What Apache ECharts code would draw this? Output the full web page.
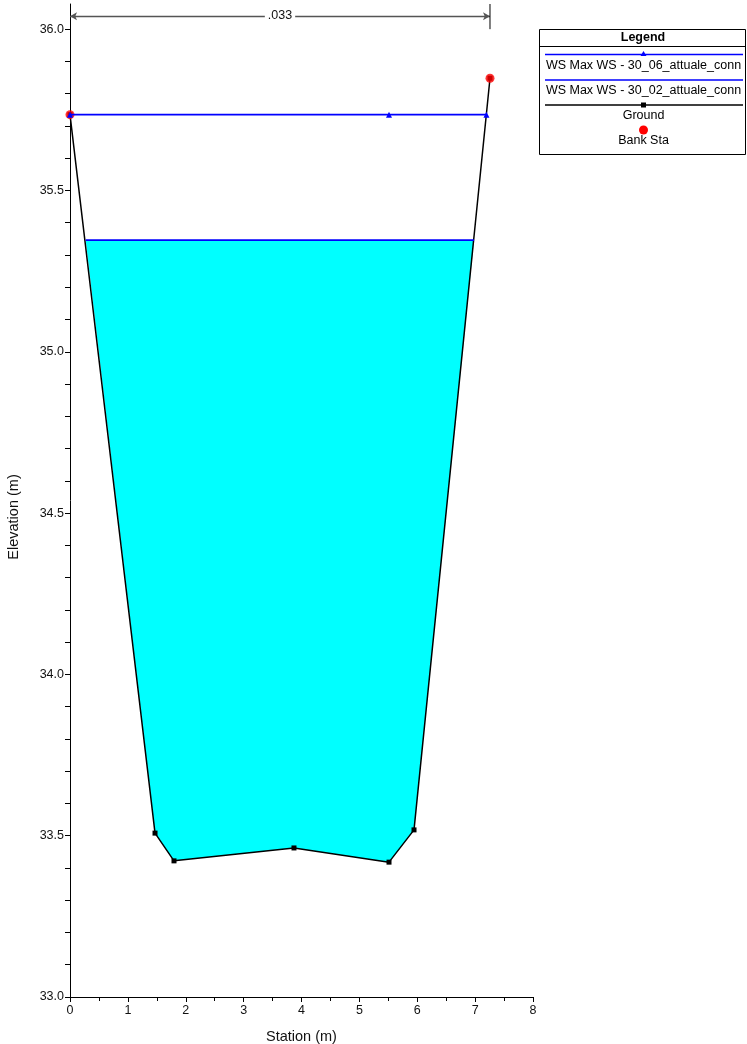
<!DOCTYPE html>
<html>
<head>
<meta charset="utf-8">
<script src="https://cdn.jsdelivr.net/npm/echarts@6/dist/echarts.min.js"></script>
<style>
  html, body { margin: 0; padding: 0; background: #fff; }
  #chart { width: 747px; height: 1044px; }
</style>
</head>
<body>
<div id="chart"></div>
<script>
// ground profile (station, elevation)
const groundX = [0, 1.469, 1.797, 3.870, 5.512, 5.944, 7.257];
const groundY = [35.735, 33.508, 33.422, 33.462, 33.418, 33.518, 35.848];

// bank stations
const bankX = [0, 7.257];
const bankY = [35.735, 35.848];

// water surfaces
const ws06X = [0, 5.512, 7.195];
const ws06Y = [35.735, 35.735, 35.735];
const ws02X = [0.271, 6.98];
const ws02Y = [35.346, 35.346];

// manning n bracket
const nLabel = '.033';
const nFrom = 0, nTo = 7.257, nElev = 36.04;

// ticks
const yLabels = [33.0, 33.5, 34.0, 34.5, 35.0, 35.5, 36.0];
const yTicks = [33.0, 33.1, 33.2, 33.3, 33.4, 33.5, 33.6, 33.7, 33.8, 33.9,
  34.0, 34.1, 34.2, 34.3, 34.4, 34.5, 34.6, 34.7, 34.8, 34.9,
  35.0, 35.1, 35.2, 35.3, 35.4, 35.5, 35.6, 35.7, 35.8, 35.9, 36.0];

const legendItems = ['WS Max WS - 30_06_attuale_conn', 'WS Max WS - 30_02_attuale_conn', 'Ground', 'Bank Sta'];

const zip = (xs, ys) => xs.map((x, i) => [x, ys[i]]);

// water polygon: surface line then ground interior points back from right to left
const waterPoly = zip(ws02X, ws02Y).concat(zip(groundX.slice(1, 6), groundY.slice(1, 6)).reverse());

const chart = echarts.init(document.getElementById('chart'));
const font = 'Liberation Sans, Arial, sans-serif';
const lg = '12.5px ' + font;

const option = {
  animation: false,
  textStyle: { fontFamily: font },
  grid: { left: 70, right: 214, top: 4, bottom: 47, containLabel: false, outerBoundsMode: 'none' },
  xAxis: {
    type: 'value', min: 0, max: 8, interval: 1,
    name: 'Station (m)', nameLocation: 'middle', nameGap: 32,
    nameTextStyle: { color: '#111', fontSize: 14.5 },
    axisLine: { onZero: false, lineStyle: { color: '#000', width: 1 } },
    axisTick: { length: 5, lineStyle: { color: '#000' } },
    minorTick: { show: true, splitNumber: 2, length: 4, lineStyle: { color: '#000' } },
    axisLabel: { color: '#111', fontSize: 12.5, margin: 7 },
    splitLine: { show: false }
  },
  yAxis: {
    type: 'value', min: 33, max: 36.078,
    axisLine: { show: true, onZero: false, lineStyle: { color: '#000', width: 1 } },
    axisTick: { show: true, length: 5, customValues: yTicks, lineStyle: { color: '#000' } },
    axisLabel: { color: '#111', fontSize: 12.5, margin: 6, customValues: yLabels,
      formatter: v => v.toFixed(1) },
    splitLine: { show: false }
  },
  graphic: [
    { type: 'text', x: 14, y: 517, rotation: Math.PI / 2,
      style: { text: 'Elevation (m)', font: '14.5px ' + font, fill: '#111', align: 'center', verticalAlign: 'middle' } },
    // legend box
    { type: 'rect', shape: { x: 539.5, y: 29.5, width: 206, height: 125 },
      style: { fill: '#fff', stroke: '#000', lineWidth: 1 } },
    { type: 'line', shape: { x1: 539.5, y1: 46.5, x2: 745.5, y2: 46.5 }, style: { stroke: '#000', lineWidth: 1 } },
    { type: 'text', x: 643, y: 37.5,
      style: { text: 'Legend', font: 'bold ' + lg, fill: '#000', align: 'center', verticalAlign: 'middle' } },
    { type: 'line', shape: { x1: 545, y1: 54.5, x2: 743, y2: 54.5 }, style: { stroke: '#0000ff', lineWidth: 1.5 } },
    { type: 'polygon', shape: { points: [[643.5, 51], [646.5, 56], [640.5, 56]] }, style: { fill: '#0000ff' } },
    { type: 'text', x: 643.5, y: 66,
      style: { text: legendItems[0], font: lg, fill: '#000', align: 'center', verticalAlign: 'middle' } },
    { type: 'line', shape: { x1: 545, y1: 80, x2: 743, y2: 80 }, style: { stroke: '#0000ff', lineWidth: 1.5 } },
    { type: 'text', x: 643.5, y: 91,
      style: { text: legendItems[1], font: lg, fill: '#000', align: 'center', verticalAlign: 'middle' } },
    { type: 'line', shape: { x1: 545, y1: 105, x2: 743, y2: 105 }, style: { stroke: '#000', lineWidth: 1.5 } },
    { type: 'rect', shape: { x: 641, y: 102.5, width: 5, height: 5 }, style: { fill: '#000' } },
    { type: 'text', x: 643.5, y: 116,
      style: { text: legendItems[2], font: lg, fill: '#000', align: 'center', verticalAlign: 'middle' } },
    { type: 'circle', shape: { cx: 643.5, cy: 130, r: 4.5 }, style: { fill: '#ff0000' } },
    { type: 'text', x: 643.5, y: 141,
      style: { text: legendItems[3], font: lg, fill: '#000', align: 'center', verticalAlign: 'middle' } }
  ],
  series: [
    {
      type: 'custom', z: 1, silent: true,
      data: [0],
      renderItem: (params, api) => ({
        type: 'polygon',
        shape: { points: waterPoly.map(p => api.coord(p)) },
        style: { fill: '#00ffff' }
      })
    },
    {
      name: legendItems[2], type: 'line', z: 3,
      data: zip(groundX, groundY),
      symbol: 'rect', symbolSize: 5, showAllSymbol: true,
      itemStyle: { color: '#000' },
      lineStyle: { color: '#000', width: 1.5 }
    },
    {
      name: legendItems[3], type: 'scatter', z: 4,
      data: zip(bankX, bankY),
      symbol: 'circle', symbolSize: 9,
      itemStyle: { color: '#ff0000' }
    },
    {
      name: legendItems[1], type: 'line', z: 5,
      data: zip(ws02X, ws02Y),
      showSymbol: false,
      lineStyle: { color: '#0000ff', width: 1.6 }
    },
    {
      name: legendItems[0], type: 'line', z: 5,
      data: zip(ws06X, ws06Y),
      symbol: 'triangle', symbolSize: 6, showAllSymbol: true,
      itemStyle: { color: '#0000ff' },
      lineStyle: { color: '#0000ff', width: 1.6 }
    },
    {
      // n-value bracket
      type: 'line', z: 6, silent: true,
      data: [[nTo, 36.0], [nTo, 36.078]],
      showSymbol: false,
      lineStyle: { color: '#000', width: 1 },
      markLine: {
        silent: true,
        symbol: ['arrow', 'arrow'], symbolSize: [6, 7],
        lineStyle: { color: '#555', width: 1.3, type: 'solid' },
        label: {
          show: true, position: 'middle', formatter: nLabel,
          color: '#111', fontSize: 12.5, fontFamily: font,
          backgroundColor: '#fff', padding: [0, 3], distance: -6
        },
        data: [[{ coord: [nFrom, nElev] }, { coord: [nTo, nElev] }]]
      }
    }
  ]
};

chart.setOption(option);
</script>
</body>
</html>
